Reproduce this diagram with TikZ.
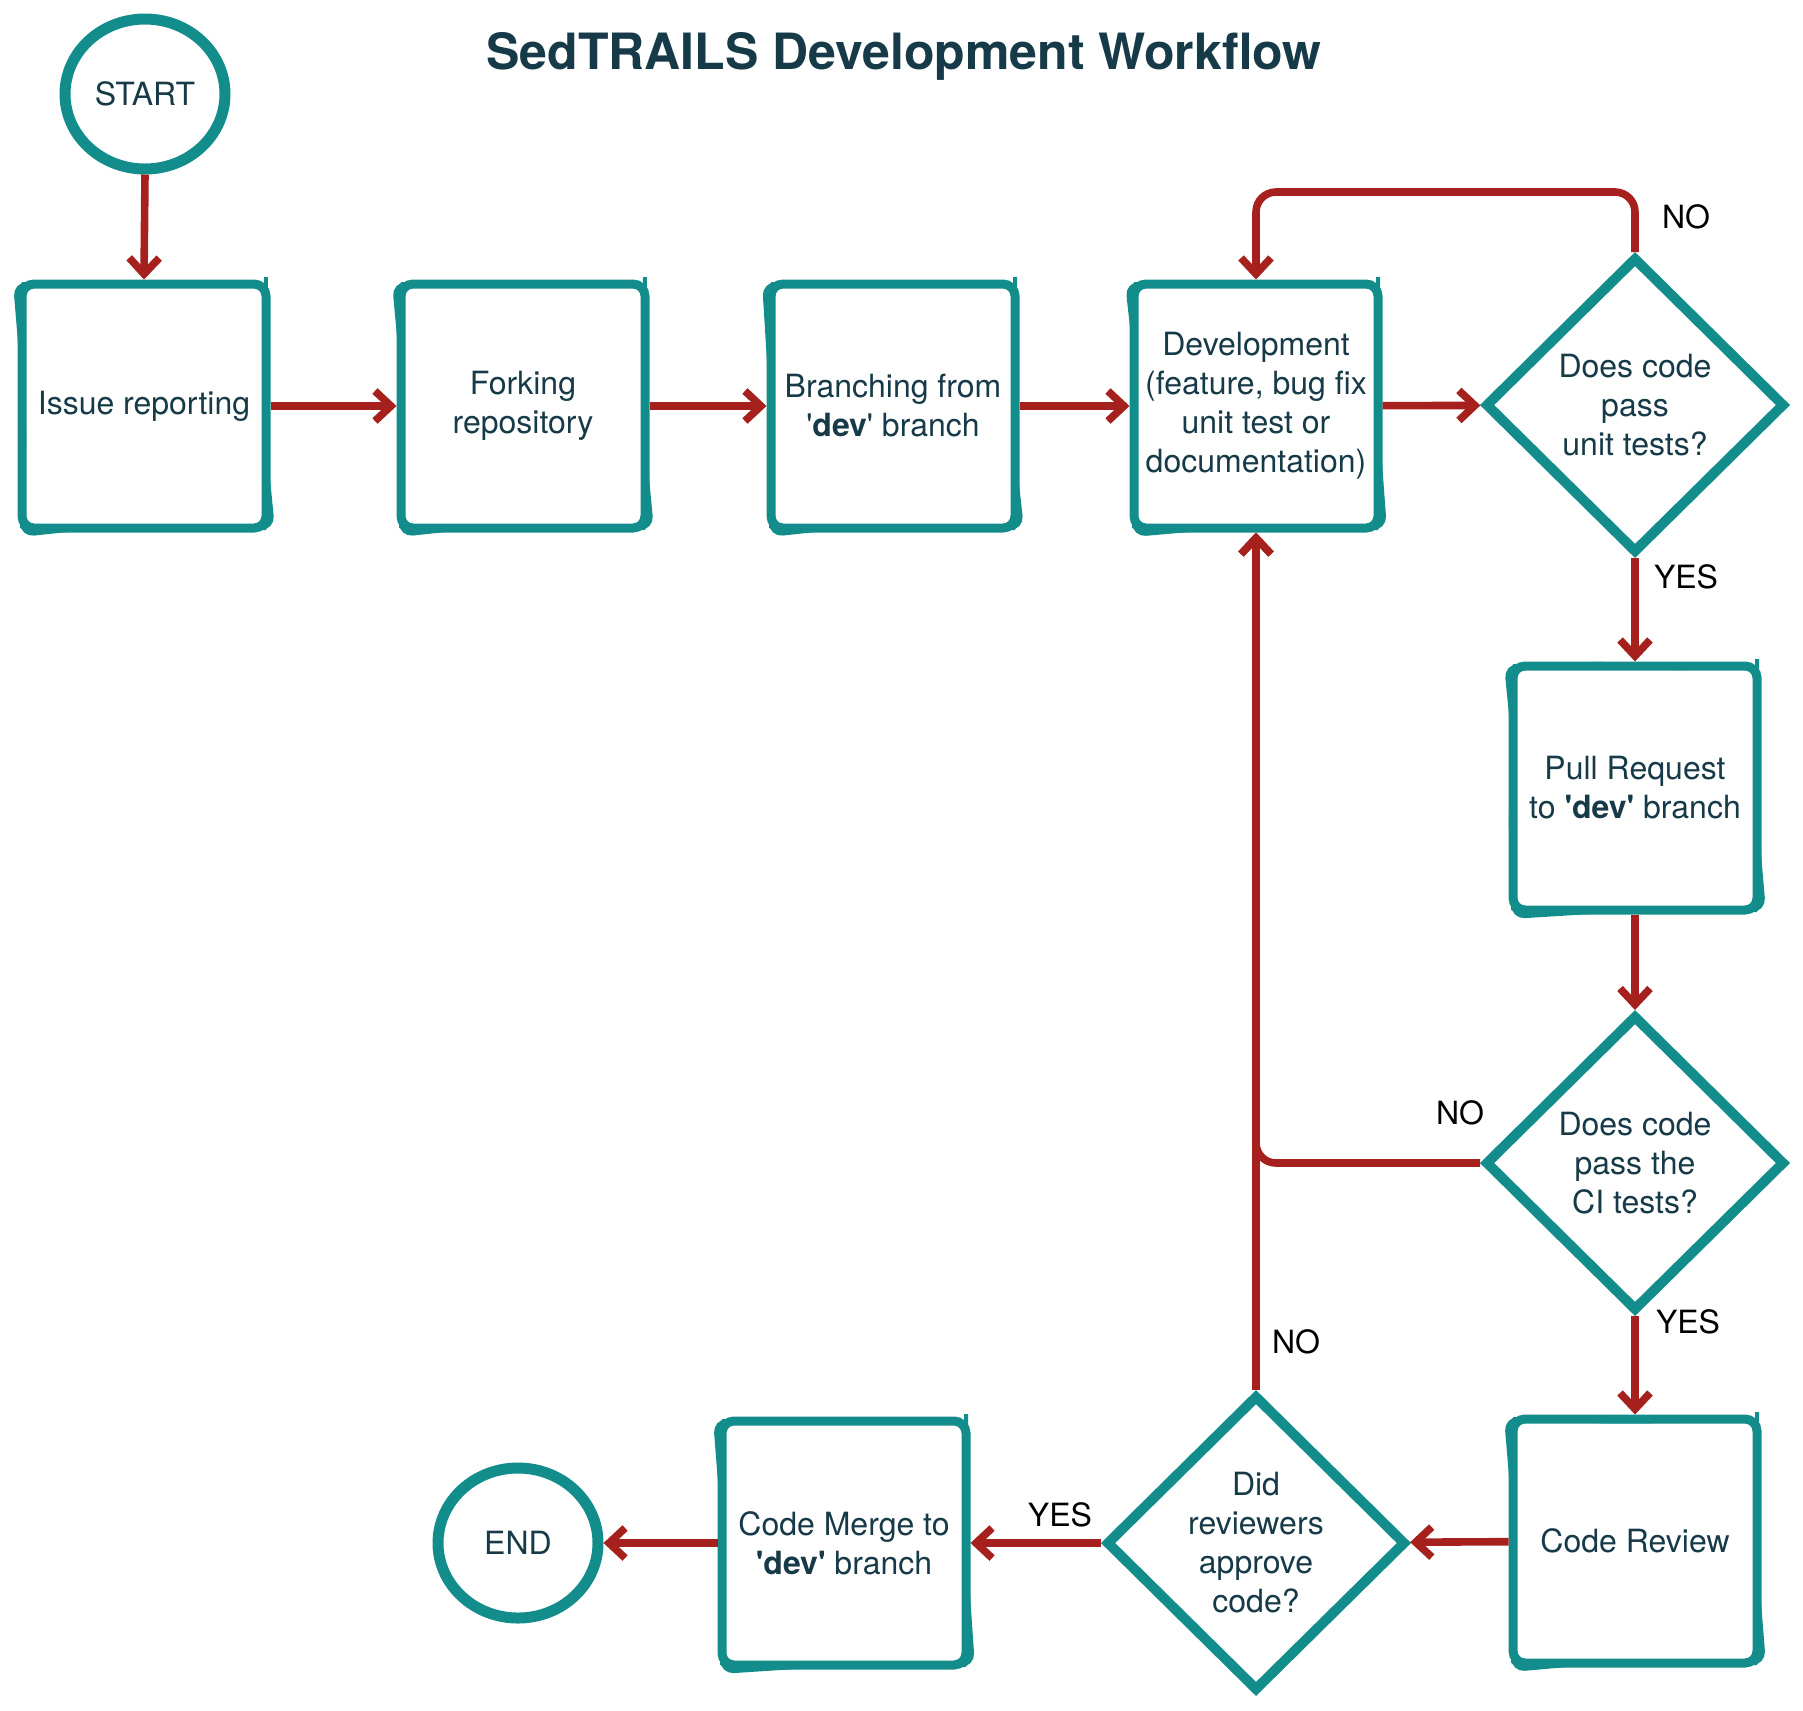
\documentclass[tikz,border=0pt]{standalone}
\usepackage{fontspec}
\setmainfont{TeX Gyre Heros}
\usetikzlibrary{shapes.geometric,arrows.meta,decorations.pathmorphing}
\definecolor{wfteal}{HTML}{138D8B}
\definecolor{wfred}{HTML}{A6211D}
\definecolor{wfink}{HTML}{173A48}
\tikzset{
  sketchy/.style={
    postaction={draw=#1,line width=2pt,decorate,
      decoration={random steps,segment length=35pt,amplitude=1.2pt}}
  },
  sketchy/.default=wfteal
}
\tikzset{
  process/.style={draw=wfteal,line width=4.5pt,rounded corners=6pt,
    minimum width=122pt,minimum height=122pt,inner sep=2pt,align=center,
    text=wfink,font=\fontsize{16}{19.5}\selectfont,sketchy},
  decision/.style={diamond,draw=wfteal,line width=5pt,aspect=1,
    minimum width=150pt,minimum height=148pt,inner sep=0pt,align=center,
    text=wfink,font=\fontsize{16}{19.5}\selectfont},
  terminal/.style={ellipse,draw=wfteal,line width=5.5pt,
    minimum width=80pt,minimum height=75pt,inner sep=0pt,
    text=wfink,font=\fontsize{16}{19.5}\selectfont},
  flow/.style={draw=wfred,line width=3.8pt,rounded corners=10pt,
    -{Straight Barb[length=8pt,width=15pt]}},
  answer/.style={text=black,font=\fontsize{16}{19.5}\selectfont}
}
\newcommand{\devname}{\textquotesingle\textbf{dev}\textquotesingle}

\begin{document}
\begin{tikzpicture}[x=0.5pt,y=-0.5pt]
\useasboundingbox (0,0) rectangle (1803,1710);
\pgfmathsetseed{7}

% title
\node[font=\fontsize{25}{30}\selectfont\bfseries,text=wfink] (heading) at (904,56) {SedTRAILS Development Workflow};

% top row
\node[terminal] (start) at (145,94) {START};
\node[process] (issue) at (144,406) {Issue reporting};
\node[process] (fork) at (523,406) {Forking\\repository};
\node[process] (branch) at (893,406) {Branching from\\\devname{} branch};
\node[process] (dev) at (1256,406) {Development\\(feature, bug fix\\unit test or\\documentation)};
\node[decision] (unittest) at (1635,405) {Does code\\pass\\unit tests?};

% right column
\node[process] (pr) at (1635,788) {Pull Request\\to \textbf{\devname} branch};
\node[decision] (citest) at (1635,1163) {Does code\\pass the\\CI tests?};
\node[process] (review) at (1635,1541) {Code Review};

% bottom row
\node[decision] (approve) at (1256,1543) {Did\\reviewers\\approve\\code?};
\node[process] (merge) at (844,1543) {Code Merge to\\\textbf{\devname} branch};
\node[terminal] (stop) at (518,1543) {END};

% connectors
\draw[flow] (start.south) -- (issue.north);
\draw[flow] (issue) -- (fork);
\draw[flow] (fork) -- (branch);
\draw[flow] (branch) -- (dev);
\draw[flow] (dev) -- (unittest);
\draw[flow] (unittest.north) -- ++(0,-60) -| (dev.north);
\draw[flow] (unittest.south) -- (pr.north);
\draw[flow] (pr.south) -- (citest.north);
\draw[flow] (citest.west) -| (dev.south);
\draw[flow] (citest.south) -- (review.north);
\draw[flow] (review) -- (approve);
\draw[flow] (approve.north) -- (dev.south);
\draw[flow] (approve) -- (merge);
\draw[flow] (merge) -- (stop);

% answers
\node[answer] (no1) at (1686,217) {NO};
\node[answer] (yes1) at (1686,577) {YES};
\node[answer] (no2) at (1460,1113) {NO};
\node[answer] (yes2) at (1688,1322) {YES};
\node[answer] (no3) at (1296,1342) {NO};
\node[answer] (yes3) at (1060,1515) {YES};
\end{tikzpicture}
\end{document}
